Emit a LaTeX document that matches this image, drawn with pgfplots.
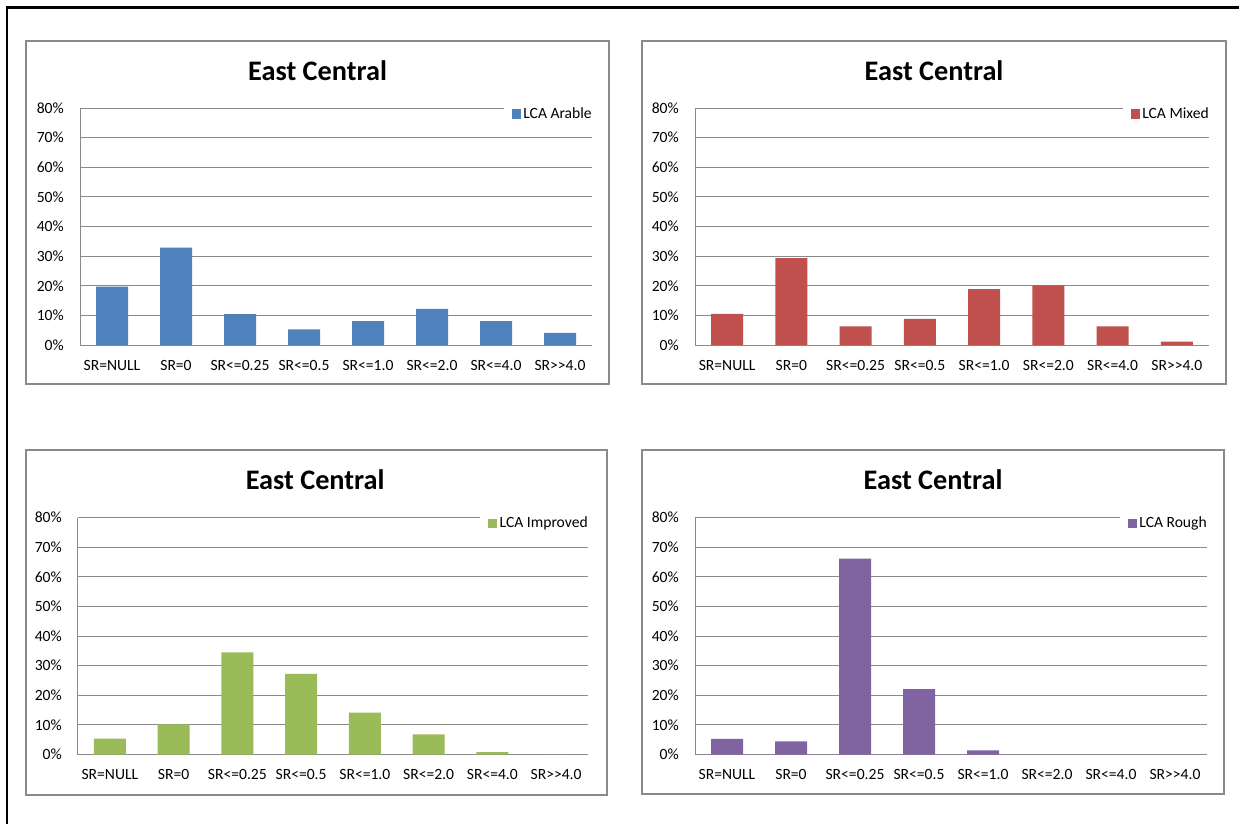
\documentclass[border=0pt]{standalone}
\usepackage{fontspec}
\setmainfont{Carlito}
\usepackage{pgfplots}
\pgfplotsset{compat=1.18}

\definecolor{arable}{HTML}{4F81BD}
\definecolor{mixed}{HTML}{C0504D}
\definecolor{improved}{HTML}{9BBB59}
\definecolor{rough}{HTML}{8064A2}
\definecolor{gridgray}{HTML}{8A8A8A}

% one panel of the East Central figure
\pgfplotsset{
  ecpanel/.style={
    scale only axis,
    height=177.75pt,
    ybar, bar width=0.5,
    xmin=-0.5, xmax=7.5, ymin=0, ymax=80,
    xtick={0,...,7},
    xticklabels={{SR=NULL},{SR=0},{SR<=0.25},{SR<=0.5},{SR<=1.0},{SR<=2.0},{SR<=4.0},{SR>{}>4.0}},
    ytick={0,10,...,80},
    yticklabels={0\%,10\%,20\%,30\%,40\%,50\%,60\%,70\%,80\%},
    ymajorgrids,
    grid style={gridgray, line width=0.75pt},
    axis x line*=bottom, axis y line*=left,
    axis line style={gridgray, line width=0.75pt, -},
    major tick length=0pt,
    tick label style={font=\fontsize{11.7}{14}\selectfont, text=black},
    xticklabel style={anchor=base, yshift=-18.75pt, inner sep=0pt},
    yticklabel style={anchor=east, xshift=-12pt, inner sep=0pt},
    title={East Central},
    title style={font=\bfseries\fontsize{21.2}{25}\selectfont, anchor=base, at={(0.464,1.084)}},
    legend style={draw=none, fill=white, inner xsep=6pt, inner ysep=1pt,
      at={(1,1)}, anchor=east, xshift=8pt, yshift=-4.5pt,
      font=\fontsize{11.7}{14}\selectfont},
  },
  sqlegend/.style={legend image code/.code={\fill[##1] (0pt,-3.4pt) rectangle (6.8pt,3.4pt);}},
}

\begin{document}
\begin{tikzpicture}
\begin{scope}[x=0.75pt, y=-0.75pt]
  \useasboundingbox (0,0) rectangle (1239,824);
  \fill[white] (0,0) rectangle (1239,824);
  \draw[black, line width=1.9pt] (7,830) -- (7,7.5) -- (1245,7.5);
  \draw[gridgray, line width=1.3pt] (26,41) rectangle (609,384);
  \draw[gridgray, line width=1.3pt] (642,41) rectangle (1226,384);
  \draw[gridgray, line width=1.3pt] (26,450) rectangle (607,795);
  \draw[gridgray, line width=1.3pt] (642,450) rectangle (1224,794);
\end{scope}

\begin{axis}[ecpanel, width=384pt, at={(60pt,-258.75pt)}, anchor=south west]
\addplot[fill=arable, draw=none, sqlegend] coordinates {
  (0,19.7) (1,32.9) (2,10.4) (3,5.3) (4,8.1) (5,12.2) (6,8.1) (7,4.1)};
\addlegendentry{LCA Arable}
\end{axis}

\begin{axis}[ecpanel, width=385.5pt, at={(521.25pt,-258.75pt)}, anchor=south west,
  title style={at={(0.465,1.084)}}]
\addplot[fill=mixed, draw=none, sqlegend] coordinates {
  (0,10.5) (1,29.3) (2,6.3) (3,8.8) (4,18.9) (5,20.1) (6,6.3) (7,1.1)};
\addlegendentry{LCA Mixed}
\end{axis}

\begin{axis}[ecpanel, width=382.5pt, at={(58.5pt,-565.875pt)}, anchor=south west,
  title style={at={(0.465,1.084)}}]
\addplot[fill=improved, draw=none, sqlegend] coordinates {
  (0,5.4) (1,10.2) (2,34.5) (3,27.2) (4,14.1) (5,6.8) (6,0.8) (7,0)};
\addlegendentry{LCA Improved}
\end{axis}

\begin{axis}[ecpanel, width=384pt, at={(521.25pt,-565.875pt)}, anchor=south west,
  title style={at={(0.465,1.084)}}]
\addplot[fill=rough, draw=none, sqlegend] coordinates {
  (0,5.3) (1,4.4) (2,66.1) (3,22.1) (4,1.4) (5,0) (6,0) (7,0)};
\addlegendentry{LCA Rough}
\end{axis}
\end{tikzpicture}
\end{document}
